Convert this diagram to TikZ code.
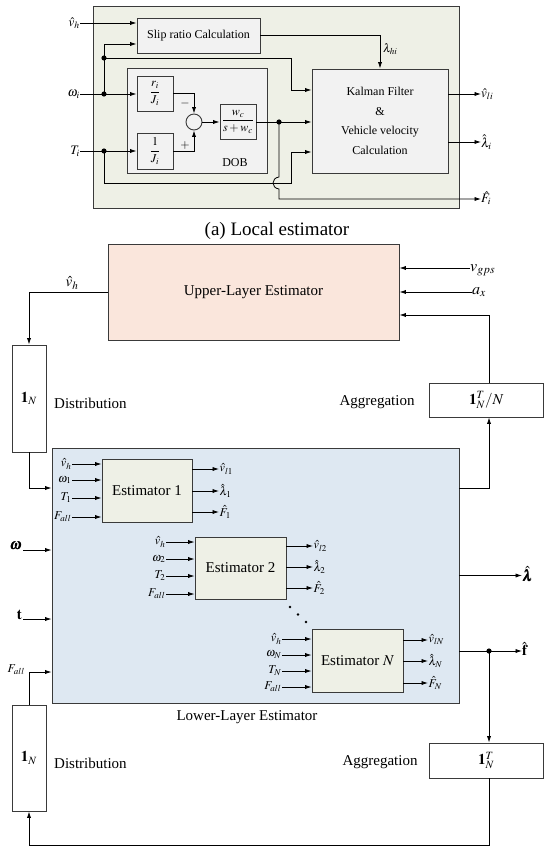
\documentclass[tikz,border=0pt]{standalone}
\usepackage{amsmath}
\usepackage{mathptmx}
\usepackage{bm}
\usepackage[no-math]{fontspec}
\setmainfont{Liberation Serif}
\usetikzlibrary{arrows.meta,calc}
\definecolor{lgreen}{HTML}{EEF0E6}
\definecolor{lgray}{HTML}{F2F2F2}
\definecolor{peach}{HTML}{FAE6DC}
\definecolor{lblue}{HTML}{DEE8F2}
\definecolor{edge}{HTML}{3A3A3A}
\tikzset{
  box/.style={draw=edge, line width=0.9pt, inner sep=0pt, anchor=center},
  arr/.style={-{Latex[length=6.5pt,width=4.2pt]}, line width=0.8pt},
  ln/.style={line width=0.8pt},
  fa/.style={font=\fontsize{12}{14}\selectfont},
  fm/.style={font=\fontsize{13}{15}\selectfont},
  fb/.style={font=\fontsize{15}{17}\selectfont},
  fs/.style={font=\fontsize{12}{13}\selectfont, inner sep=0.5pt},
}
\begin{document}
\begin{tikzpicture}[x=1pt,y=-1pt]
\useasboundingbox (0,0) rectangle (544,850);
% ---------------- (a) Local estimator ----------------
\node[box, fill=lgreen, minimum width=366pt, minimum height=202pt] (LE) at (276,107) {};
\node[box, fill=lgray, minimum width=123pt, minimum height=35pt, fa] (SL) at (198.5,35.5) {Slip ratio Calculation};
\node[box, fill=lgray, minimum width=136pt, minimum height=104pt, align=center, font=\fontsize{12}{19.5}\selectfont] (KF) at (380,121) {Kalman Filter\\\&\\Vehicle velocity\\Calculation};
\node[box, fill=lgray, minimum width=140pt, minimum height=105pt] (DOB) at (197,120.5) {};
\node[fa] (DOBl) at (235,163) {DOB};
\node[box, fill=lgray, minimum width=36pt, minimum height=35pt, fa] (RJ) at (155,93.5) {$\dfrac{r_i}{J_i}$};
\node[box, fill=lgray, minimum width=36pt, minimum height=36pt, fa] (OJ) at (155,151) {$\dfrac{1}{J_i}$};
\node[circle, draw=edge, line width=0.9pt, fill=lgray, minimum size=16pt, inner sep=0pt] (SUM) at (194,122) {};
\node[box, fill=lgray, minimum width=36pt, minimum height=35pt, fa] (WC) at (238,122) {$\dfrac{w_c}{s+w_c}$};
\node[fm, anchor=east, inner sep=0pt] (vhi) at (80,23) {$\hat v_h$};
\node[fm, anchor=east, inner sep=0pt] (wi) at (80,94) {$\omega_i$};
\node[fm, anchor=east, inner sep=0pt] (Ti) at (80,151) {$T_i$};
\coordinate (d1) at (104,94);
\coordinate (d2) at (104,58);
\coordinate (d3) at (104,151);
\coordinate (d4) at (279,122);
\draw[arr] (vhi.east) -- (vhi.east -| SL.west);
\draw[arr] (wi.east) -- (wi.east -| RJ.west);
\draw[arr] (Ti.east) -- (Ti.east -| OJ.west);
\draw[arr] (d1) |- ($(SL.west)+(0,8.5)$);
\draw[arr] (d2) -- (291,58) -- (291,90) -- ($(KF.west)+(0,-31)$);
\draw[arr] (d3) -- (104,183) -- (291,183) -- (291,152) -- ($(KF.west)+(0,31)$);
\draw[arr] (RJ.east) -| (SUM.north);
\draw[arr] (OJ.east) -| (SUM.south);
\node[fa] (minus) at (185,104) {$-$};
\node[fa] (plus) at (185,146) {$+$};
\draw[arr] (SUM.east) -- (WC.west);
\draw[ln] (WC.east) -- (d4);
\draw[arr] (d4) -- (d4 -| KF.west);
\node[fm, anchor=west, inner sep=0pt] (Fi) at (481,198) {$\hat F_i$};
\draw[arr] (d4) -- (279,177) .. controls (271,178) and (271,188) .. (279,189) -- (279,199) -- (Fi.west |- 0,199);
\draw[arr] (SL.east) -| (KF.north);
\node[font=\fontsize{12}{13}\selectfont, anchor=west, inner sep=0pt] (lhi) at (383,49) {$\lambda_{hi}$};
\node[fm, anchor=west, inner sep=0pt] (vli) at (481,94) {$\hat v_{li}$};
\node[fm, anchor=west, inner sep=0pt] (lmi) at (481,142) {$\hat\lambda_i$};
\draw[arr] (KF.east |- vli.west) -- (vli.west);
\draw[arr] (KF.east |- lmi.west) -- (lmi.west);
\foreach \p in {d1,d2,d3,d4} \fill (\p) circle (2.6);
\node[font=\fontsize{19}{22}\selectfont] (cap) at (277,231) {(a) Local estimator};
% ---------------- Upper layer ----------------
\coordinate (col) at (489,0);
\node[box, fill=peach, minimum width=291pt, minimum height=96pt, fb] (UB) at (253.5,292) {Upper-Layer Estimator};
\node[font=\fontsize{16}{18}\selectfont, anchor=west, inner sep=0pt] (vgps) at (470,270) {$v_{gps}$};
\node[font=\fontsize{16}{18}\selectfont, anchor=west, inner sep=0pt] (ax) at (472,292) {$a_x$};
\draw[arr] (vgps.west |- 0,268) -- (UB.east |- 0,268);
\draw[arr] (ax.west) -- (ax.west -| UB.east);
\node[box, fill=white, minimum width=34pt, minimum height=107pt, fb] (D1) at (29,398.5) {$\mathbf{1}_N$};
\node[fb, anchor=west, inner sep=0pt] (dl1) at (54,403) {Distribution};
\node[fb] (vhU) at (72,283) {$\hat v_h$};
\draw[arr] (UB.west) -| (D1.north);
\node[box, fill=white, minimum width=114.5pt, minimum height=34pt, fb] (AG1) at (486.25,400) {$\mathbf{1}_N^T/N$};
\node[fb] (ag1l) at (377,402) {Aggregation};
\draw[arr] (AG1.north -| col) |- ($(UB.east)+(0,23)$);
% ---------------- Lower layer ----------------
\node[box, fill=lblue, minimum width=407pt, minimum height=255pt] (LB) at (255.5,575.5) {};
\node[fb] (LBl) at (247,717) {Lower-Layer Estimator};
\draw[arr] (D1.south) |- ($(LB.west)+(0,-87.5)$);
\draw[arr] ($(LB.east)+(0,-87.5)$) -| (AG1.south -| col);
\node[fb, anchor=east, inner sep=1pt] (om) at (23,546) {$\bm{\omega}$};
\node[fb, anchor=east, inner sep=1pt] (tt) at (23,615) {$\mathbf{t}$};
\node[fs, anchor=east, inner sep=0pt] (Fal) at (25,670) {$F_{all}$};
\draw[arr] ($(om.east)+(0,4)$) -- ($(LB.west)+(0,-25.5)$);
\draw[arr] ($(tt.east)+(0,4)$) -- ($(LB.west)+(0,43.5)$);
\node[box, fill=white, minimum width=34pt, minimum height=106pt, fb] (D2) at (29,758) {$\mathbf{1}_N$};
\node[fb, anchor=west, inner sep=0pt] (dl2) at (54,763) {Distribution};
\draw[arr] (D2.north) |- ($(LB.west)+(0,96.5)$);
\node[fb, anchor=west, inner sep=0pt] (lamO) at (522,574) {$\hat{\bm\lambda}$};
\node[fb, anchor=west, inner sep=0pt] (fO) at (522,649) {$\hat{\mathbf f}$};
\draw[arr] (LB.east) -- (lamO.west |- LB.east);
\draw[arr] ($(LB.east)+(0,75.5)$) -- (fO.west |- 0,651);
\coordinate (d5) at (489,651);
\fill (d5) circle (2.6);
\node[box, fill=white, minimum width=114.5pt, minimum height=35pt, fb] (AG2) at (486.25,760.5) {$\mathbf{1}_N^T$};
\node[fb] (ag2l) at (380,762) {Aggregation};
\draw[arr] (d5) -- (AG2.north -| col);
\coordinate (bot) at (489,845);
\draw[arr] (AG2.south -| col) -- (bot) -| (D2.south);
% Estimators
\node[box, fill=lgreen, minimum width=90pt, minimum height=63pt, fb] (E1) at (147,490.5) {Estimator 1};
\node[box, fill=lgreen, minimum width=91pt, minimum height=62pt, fb] (E2) at (240.5,568) {Estimator 2};
\node[box, fill=lgreen, minimum width=91pt, minimum height=63pt, fb] (EN) at (357.5,660.5) {Estimator $N$};
\foreach \y/\lbl [count=\k] in {464/{\hat v_h},480/{\omega_1},498/{T_1},517/{F_{all}}} {
  \node[fs, anchor=east] (e1i\k) at (72,\y) {$\lbl$};
  \draw[arr] (e1i\k.east) -- (e1i\k.east -| E1.west);
}
\foreach \y/\lbl [count=\k] in {469/{\hat v_{l1}},491/{\hat\lambda_1},512/{\hat F_1}} {
  \node[fs, anchor=west] (e1o\k) at (219,\y) {$\lbl$};
  \draw[arr] (e1o\k.west -| E1.east) -- (e1o\k.west);
}
\foreach \y/\lbl [count=\k] in {542/{\hat v_h},559/{\omega_2},576/{T_2},594/{F_{all}}} {
  \node[fs, anchor=east] (e2i\k) at (166,\y) {$\lbl$};
  \draw[arr] (e2i\k.east) -- (e2i\k.east -| E2.west);
}
\foreach \y/\lbl [count=\k] in {546/{\hat v_{l2}},567/{\hat\lambda_2},588/{\hat F_2}} {
  \node[fs, anchor=west] (e2o\k) at (313,\y) {$\lbl$};
  \draw[arr] (e2o\k.west -| E2.east) -- (e2o\k.west);
}
\foreach \y/\lbl [count=\k] in {639/{\hat v_h},655/{\omega_N},671/{T_N},687/{F_{all}}} {
  \node[fs, anchor=east] (eNi\k) at (282,\y) {$\lbl$};
  \draw[arr] (eNi\k.east) -- (eNi\k.east -| EN.west);
}
\foreach \y/\lbl [count=\k] in {640/{\hat v_{lN}},661/{\hat\lambda_N},683/{\hat F_N}} {
  \node[fs, anchor=west] (eNo\k) at (428,\y) {$\lbl$};
  \draw[arr] (eNo\k.west -| EN.east) -- (eNo\k.west);
}
\fill (290,607) circle (1.3) (298,614.5) circle (1.3) (306,622) circle (1.3);
\end{tikzpicture}
\end{document}
